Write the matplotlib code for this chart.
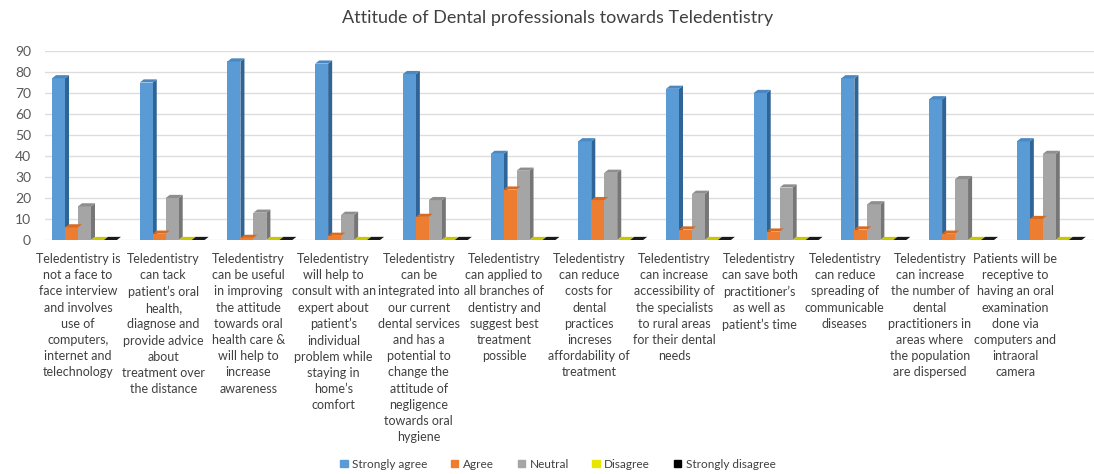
import numpy as np
import matplotlib
matplotlib.use('Agg')
import matplotlib.pyplot as plt
from matplotlib.patches import Polygon, Patch

plt.rcParams['font.family'] = ['Lato', 'DejaVu Sans']

# Statement labels (x axis)
statements = [
    "Teledentistry is\nnot a face to\nface interview\nand involves\nuse of\ncomputers,\ninternet and\ntelechnology",
    "Teledentistry\ncan tack\npatient\u2019s oral\nhealth,\ndiagnose and\nprovide advice\nabout\ntreatment over\nthe distance",
    "Teledentistry\ncan be useful\nin improving\nthe attitude\ntowards oral\nhealth care &\nwill help to\nincrease\nawareness",
    "Teledentistry\nwill help to\nconsult with an\nexpert about\npatient\u2019s\nindividual\nproblem while\nstaying in\nhome\u2019s\ncomfort",
    "Teledentistry\ncan be\nintegrated into\nour current\ndental services\nand has a\npotential to\nchange the\nattitude of\nnegligence\ntowards oral\nhygiene",
    "Teledentistry\ncan applied to\nall branches of\ndentistry and\nsuggest best\ntreatment\npossible",
    "Teledentistry\ncan reduce\ncosts for\ndental\npractices\nincreses\naffordability of\ntreatment",
    "Teledentistry\ncan increase\naccessibility of\nthe specialists\nto rural areas\nfor their dental\nneeds",
    "Teledentistry\ncan save both\npractitioner\u2019s\nas well as\npatient\u2019s time",
    "Teledentistry\ncan reduce\nspreading of\ncommunicable\ndiseases",
    "Teledentistry\ncan increase\nthe number of\ndental\npractitioners in\nareas where\nthe population\nare dispersed",
    "Patients will be\nreceptive to\nhaving an oral\nexamination\ndone via\ncomputers and\nintraoral\ncamera",
]

series_names = ["Strongly agree", "Agree", "Neutral", "Disagree", "Strongly disagree"]
strongly_agree = [77, 75, 85, 84, 79, 41, 47, 72, 70, 77, 67, 47]
agree = [6, 3, 1, 2, 11, 24, 19, 5, 4, 5, 3, 10]
neutral = [16, 20, 13, 12, 19, 33, 32, 22, 25, 17, 29, 41]
disagree = [0] * 12
strongly_disagree = [0] * 12
yticks = list(range(0, 100, 10))

front_colors = ["#5B9BD5", "#ED7D31", "#A5A5A5", "#E6E600", "#000000"]
side_colors = ["#2F6596", "#B35A1C", "#767676", "#A8A800", "#000000"]
top_colors = ["#4A88C2", "#D86B22", "#8E8E8E", "#C8C800", "#1A1A1A"]

fig = plt.figure(figsize=(10.94, 4.74), dpi=100)
ax = fig.add_axes([45 / 1094, 1 - 240 / 474, 1 - 45 / 1094, (240 - 51) / 474])

w = 0.148
dx = 0.046
dy = 1.5
x = np.arange(len(statements))
all_vals = [strongly_agree, agree, neutral, disagree, strongly_disagree]

for k, vals in enumerate(all_vals):
    xs = x + k * w
    bars = ax.bar(xs, vals, width=w, align='edge', color=front_colors[k],
                  edgecolor='none', zorder=3, label=series_names[k])
    # fake 3D: side and top faces
    for b in bars:
        x0 = b.get_x()
        h = b.get_height()
        x1 = x0 + b.get_width()
        side = Polygon([(x1, 0), (x1 + dx, dy), (x1 + dx, h + dy), (x1, h)],
                       closed=True, color=side_colors[k], lw=0, zorder=2)
        top = Polygon([(x0, h), (x1, h), (x1 + dx, h + dy), (x0 + dx, h + dy)],
                      closed=True, color=top_colors[k], lw=0, zorder=4)
        ax.add_patch(side)
        ax.add_patch(top)

ax.set_xlim(-0.08, 11.88)
ax.set_ylim(0, 90)
ax.set_yticks(yticks)
ax.tick_params(axis='y', length=0, labelsize=10, labelcolor='#595959', pad=10)
ax.set_xticks([])
ax.grid(axis='y', color='#DDDDDD', lw=1, zorder=0)
for s in ax.spines.values():
    s.set_visible(False)

# category labels under each group
for i, lab in enumerate(statements):
    fig.text((78 + 85.2 * i) / 1094, 1 - 253 / 474, lab, ha='center', va='top',
             fontsize=9, color='#404040', linespacing=1.42)

fig.text(0.51, 1 - 18 / 474, "Attitude of Dental professionals towards Teledentistry",
         ha='center', va='center', fontsize=13, color='#404040')

handles = [Patch(color=c) for c in front_colors]
fig.legend(handles, series_names, loc='center', bbox_to_anchor=(0.51, 1 - 464 / 474),
           ncol=5, frameon=False, fontsize=8.5, handlelength=0.6, handleheight=0.6,
           handletextpad=0.4, columnspacing=2.0, labelcolor='#404040')

fig.savefig('out.png', dpi=100)
